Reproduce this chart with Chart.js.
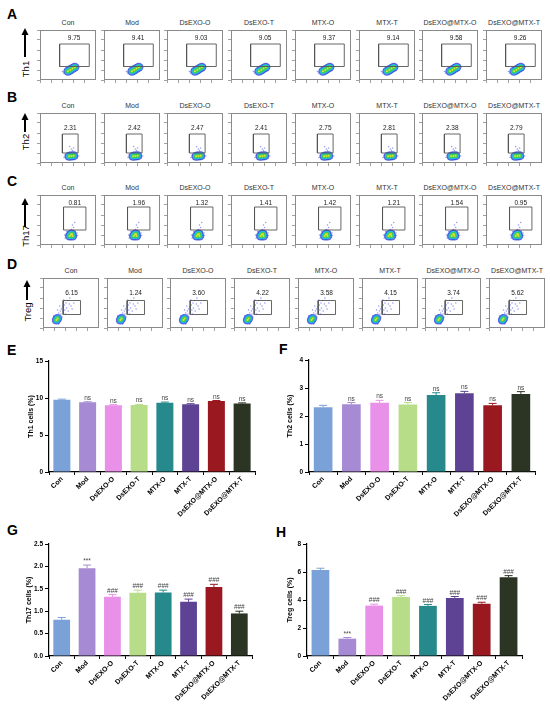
<!DOCTYPE html>
<html>
<head>
<meta charset="utf-8">
<script src="https://cdn.jsdelivr.net/npm/chart.js@4.4.0/dist/chart.umd.min.js"></script>
<style>
    body { margin: 0; background: #fff; }
    #fig { position: relative; width: 550px; height: 706px; font-family: "Liberation Sans", Arial, sans-serif; overflow: hidden; }
    #fig canvas { position: absolute; }
    .panel { position: absolute; font-weight: bold; font-size: 14px; line-height: 14px; color: #000; }
    .ttl { position: absolute; width: 64px; text-align: center; font-size: 7px; line-height: 8px; color: #333; white-space: nowrap; }
    #arrows { position: absolute; left: 0; top: 0; }
</style>
</head>
<body>
<div id="fig">
    <svg id="arrows" width="60" height="340"></svg>
</div>
<script>
const groups = ["Con", "Mod", "DsEXO-O", "DsEXO-T", "MTX-O", "MTX-T", "DsEXO@MTX-O", "DsEXO@MTX-T"];
const barColors = ["#7ba2d8", "#a68ad4", "#e990e8", "#b8dd88", "#26898b", "#5e4294", "#9a1820", "#2c3424"];

// bar panels
const th1Values = [9.75, 9.41, 9.03, 9.05, 9.37, 9.14, 9.58, 9.26];
const th1Errors = [0.10, 0.08, 0.07, 0.08, 0.08, 0.09, 0.08, 0.08];
const th1Marks = ["", "ns", "ns", "ns", "ns", "ns", "ns", "ns"];
const th1Ticks = [0, 5, 10, 15];

const th2Values = [2.31, 2.42, 2.47, 2.41, 2.75, 2.81, 2.38, 2.79];
const th2Errors = [0.07, 0.06, 0.09, 0.07, 0.08, 0.07, 0.07, 0.08];
const th2Marks = ["", "ns", "ns", "ns", "ns", "ns", "ns", "ns"];
const th2Ticks = [0, 1, 2, 3, 4];

const th17Values = [0.81, 1.96, 1.32, 1.41, 1.42, 1.21, 1.54, 0.95];
const th17Errors = [0.05, 0.07, 0.05, 0.06, 0.05, 0.06, 0.06, 0.05];
const th17Marks = ["", "***", "###", "###", "###", "###", "###", "###"];
const th17Ticks = [0, 0.5, 1.0, 1.5, 2.0, 2.5];

const tregValues = [6.15, 1.24, 3.60, 4.22, 3.58, 4.15, 3.74, 5.62];
const tregErrors = [0.12, 0.08, 0.10, 0.09, 0.10, 0.10, 0.10, 0.12];
const tregMarks = ["", "***", "###", "###", "###", "###", "###", "###"];
const tregTicks = [0, 2, 4, 6, 8];

// flow plots (0-100 display units)
const th1Gate = [35, 88, 27, 72];
const th1LabelAt = [61, 84];
const th1Cloud = [[44,16],[46,18],[48,17],[47,20],[50,19],[50,22],[52,17],[52,24],[54,21],[55,25],[57,18],[58,23],[58,27],[60,21],[61,26],[62,24],[63,29],[64,27],[66,28],[53,15],[56,16],[49,14],[59,19],[62,31],[45,21],[66,24],[42,14],[68,30],[51,26],[57,29],[40,17],[70,27],[46,13],[65,31]];
const th1Core = [[50,17.5],[54,20],[58,23],[62,25.5]];

const th2Gate = [40, 68, 20, 58];
const th2LabelAt = [54, 70];
const th2Cloud = [[46,12],[48,15],[49,10],[51,13],[52,17],[53,11],[55,15],[55,9],[57,18],[58,12],[59,16],[60,10],[61,14],[63,12],[64,16],[66,13],[50,19],[54,22],[58,25],[62,21],[47,8],[67,10],[45,16],[56,28],[53,33],[60,30],[43,11],[69,14]];
const th2Core = [[52,13.5],[56,14],[60,14.5]];

const th17Gate = [42, 82, 30, 76];
const th17LabelAt = [62, 84];
const th17Cloud = [[46,18],[47,22],[49,15],[50,25],[51,19],[52,13],[53,23],[54,27],[55,16],[57,25],[58,14],[59,21],[60,28],[61,17],[62,23],[64,20],[65,15],[48,27],[63,27],[56,31],[60,35],[66,24],[45,14],[58,40],[62,45],[44,20],[67,19]];
const th17Core = [[53,18],[57,22],[55,21],[58,18]];

const tregGate = [36, 67, 27, 55];
const tregLabelAt = [51, 70];
const tregCloud = [[18,12],[20,18],[21,14],[22,22],[23,10],[24,26],[26,20],[27,14],[28,30],[29,24],[30,18],[31,34],[32,28],[33,38],[34,22],[35,42],[36,32],[38,46],[39,36],[40,28],[41,50],[42,40],[44,55],[45,34],[47,48],[48,60],[50,44],[52,38],[30,44],[26,36],[55,50],[37,56],[19,24],[28,8]];
const tregCore = [[24,16],[26,19]];

const densityColors = ["rgba(58,79,224,0.85)", "rgba(34,195,232,0.85)", "#3ccf4e", "#e2e23a"];
const densityRadius = [4.6, 3.3, 2.2, 1.0];

const FONT = '"Liberation Sans", Arial, sans-serif';
Chart.defaults.font.family = FONT;

const fig = document.getElementById("fig");

function addCanvas(left, top, w, h) {
    const cv = document.createElement("canvas");
    cv.width = w;
    cv.height = h;
    cv.style.left = left + "px";
    cv.style.top = top + "px";
    cv.style.width = w + "px";
    cv.style.height = h + "px";
    fig.appendChild(cv);
    return cv;
}

function addDiv(cls, text, left, top) {
    const d = document.createElement("div");
    d.className = cls;
    d.textContent = text;
    d.style.left = left + "px";
    d.style.top = top + "px";
    fig.appendChild(d);
    return d;
}

// ---------- flow cytometry plots ----------
const framePlugin = {
    id: "frame",
    afterDatasetsDraw(chart, args, opts) {
        const { ctx, chartArea: a } = chart;
        ctx.save();
        ctx.strokeStyle = "#8a8a8a";
        ctx.lineWidth = 1;
        ctx.strokeRect(a.left + 0.5, a.top + 0.5, a.width - 1, a.height - 1);
        if (opts.text) {
            ctx.fillStyle = "#222";
            ctx.font = "6.5px " + FONT;
            ctx.textAlign = "center";
            ctx.textBaseline = "middle";
            ctx.fillText(opts.text, chart.scales.x.getPixelForValue(opts.at[0]), chart.scales.y.getPixelForValue(opts.at[1]));
        }
        ctx.restore();
    }
};

const flowRows = [
    { top: 30, shift: 0, values: th1Values, gate: th1Gate, labelAt: th1LabelAt, cloud: th1Cloud, core: th1Core },
    { top: 113, shift: 0, values: th2Values, gate: th2Gate, labelAt: th2LabelAt, cloud: th2Cloud, core: th2Core },
    { top: 195, shift: 0, values: th17Values, gate: th17Gate, labelAt: th17LabelAt, cloud: th17Cloud, core: th17Core },
    { top: 278, shift: 3, values: tregValues, gate: tregGate, labelAt: tregLabelAt, cloud: tregCloud, core: tregCore }
];

function toXY(arr) {
    return arr.map(p => ({ x: p[0], y: p[1] }));
}

function makeFlow(row, col) {
    const boxX = Math.round(40 + 63.7 * col + row.shift);
    addDiv("ttl", groups[col], boxX - 4, row.top - 11);
    const cv = addCanvas(boxX - 4, row.top, 60, 54);
    const g = row.gate;
    const gateLine = [[g[0], g[2]], [g[1], g[2]], [g[1], g[3]], [g[0], g[3]], [g[0], g[2]]];

    // chart.js paints the last dataset first, so the list runs top layer -> bottom layer
    const datasets = [
        { data: toXY(gateLine), showLine: true, borderColor: "#555", borderWidth: 0.9, pointRadius: 0, fill: false }
    ];
    for (let i = densityColors.length - 1; i >= 0; i--) {
        datasets.push({ data: toXY(row.core), pointRadius: densityRadius[i], backgroundColor: densityColors[i], borderWidth: 0 });
    }
    datasets.push({ data: toXY(row.cloud), pointRadius: 0.8, backgroundColor: "rgba(80,90,235,0.6)", borderWidth: 0 });

    const axis = (isX) => ({
        min: 0,
        max: 100,
        ticks: { display: false, stepSize: 20 },
        grid: { drawOnChartArea: false, tickLength: 3, color: "#777", lineWidth: 0.7 },
        border: { display: false },
        afterFit(s) { if (isX) s.height = 4; else s.width = 4; }
    });

    new Chart(cv, {
        type: "scatter",
        data: { datasets },
        options: {
            animation: false,
            responsive: false,
            events: [],
            layout: { padding: 0, autoPadding: false },
            plugins: {
                legend: { display: false },
                tooltip: { enabled: false },
                frame: { text: row.values[col].toFixed(2), at: row.labelAt }
            },
            scales: { x: axis(true), y: axis(false) }
        },
        plugins: [framePlugin]
    });
}

flowRows.forEach(row => groups.forEach((_, i) => makeFlow(row, i)));

// arrows + row labels
const svg = document.getElementById("arrows");
const rowLabels = [
    { text: "Th1", x: 25, tip: 28, end: 57, ly: 69 },
    { text: "Th2", x: 25, tip: 113, end: 132, ly: 142 },
    { text: "Th17", x: 25, tip: 198, end: 227, ly: 236 },
    { text: "Treg", x: 27, tip: 280, end: 300, ly: 312 }
];
let svgHtml = "";
rowLabels.forEach(r => {
    svgHtml += `<line x1="${r.x}" y1="${r.tip + 5}" x2="${r.x}" y2="${r.end}" stroke="#000" stroke-width="2"/>`;
    svgHtml += `<polygon points="${r.x},${r.tip} ${r.x - 3.5},${r.tip + 7} ${r.x + 3.5},${r.tip + 7}" fill="#000"/>`;
    svgHtml += `<text x="${r.x}" y="${r.ly}" transform="rotate(-90 ${r.x} ${r.ly})" text-anchor="middle" dominant-baseline="central" font-size="9.5" font-family='Liberation Sans, Arial, sans-serif'>${r.text}</text>`;
});
svg.innerHTML = svgHtml;

// panel letters
[["A", 7, 7], ["B", 7, 90], ["C", 7, 174], ["D", 7, 257], ["E", 7, 343], ["F", 279, 342], ["G", 7, 523], ["H", 276, 525]]
    .forEach(([t, x, y]) => addDiv("panel", t, x, y));

// ---------- bar charts ----------
const errorBarPlugin = {
    id: "errorBars",
    afterDatasetsDraw(chart, args, opts) {
        const { ctx } = chart;
        const meta = chart.getDatasetMeta(0);
        const y = chart.scales.y;
        ctx.save();
        meta.data.forEach((bar, i) => {
            const top = y.getPixelForValue(opts.values[i] + opts.errors[i]);
            ctx.strokeStyle = barColors[i];
            ctx.lineWidth = 1;
            ctx.beginPath();
            ctx.moveTo(bar.x, bar.y);
            ctx.lineTo(bar.x, top);
            ctx.moveTo(bar.x - 4, top);
            ctx.lineTo(bar.x + 4, top);
            ctx.stroke();
            if (opts.marks[i]) {
                ctx.fillStyle = "#444";
                ctx.font = "6.5px " + FONT;
                ctx.textAlign = "center";
                ctx.textBaseline = "bottom";
                ctx.fillText(opts.marks[i], bar.x, top - 0.5);
            }
        });
        ctx.restore();
    }
};

function makeBar(cfg) {
    const cv = addCanvas(cfg.left, cfg.top, cfg.w, cfg.h);
    new Chart(cv, {
        type: "bar",
        data: {
            labels: groups,
            datasets: [{
                data: cfg.values,
                backgroundColor: barColors,
                borderWidth: 0,
                barPercentage: 0.66,
                categoryPercentage: 1
            }]
        },
        options: {
            animation: false,
            responsive: false,
            events: [],
            layout: { padding: { top: cfg.padTop, right: cfg.padRight, left: 0, bottom: 0 }, autoPadding: false },
            plugins: {
                legend: { display: false },
                tooltip: { enabled: false },
                errorBars: { values: cfg.values, errors: cfg.errors, marks: cfg.marks }
            },
            scales: {
                x: {
                    ticks: { maxRotation: 45, minRotation: 45, autoSkip: false, color: "#000", font: { size: 7, weight: "bold" }, padding: 0 },
                    grid: { drawOnChartArea: false, tickLength: 3, color: "#000" },
                    border: { color: "#000", width: 1.2 },
                    afterFit(s) { s.height = cfg.xHeight; }
                },
                y: {
                    min: cfg.ticks[0],
                    max: cfg.ticks[cfg.ticks.length - 1],
                    afterBuildTicks(s) { s.ticks = cfg.ticks.map(v => ({ value: v })); },
                    ticks: {
                        color: "#000",
                        font: { size: 6.5, weight: "bold" },
                        padding: 2,
                        callback: v => v.toFixed(cfg.decimals)
                    },
                    grid: { drawOnChartArea: false, tickLength: 4, color: "#000" },
                    border: { color: "#000", width: 1.2 },
                    title: {
                        display: true,
                        text: cfg.title,
                        color: "#000",
                        font: { size: 7, weight: "bold" },
                        padding: { top: cfg.titlePad, bottom: 0 }
                    },
                    afterFit(s) { s.width = cfg.yWidth; }
                }
            }
        },
        plugins: [errorBarPlugin]
    });
}

makeBar({ left: 0, top: 350, w: 262, h: 178, padTop: 11, padRight: 7, xHeight: 56, yWidth: 49, titlePad: 27,
    values: th1Values, errors: th1Errors, marks: th1Marks, ticks: th1Ticks, decimals: 0, title: "Th1 cells (%)" });
makeBar({ left: 270, top: 350, w: 267, h: 178, padTop: 10, padRight: 2, xHeight: 56, yWidth: 39, titlePad: 16,
    values: th2Values, errors: th2Errors, marks: th2Marks, ticks: th2Ticks, decimals: 0, title: "Th2 cells (%)" });
makeBar({ left: 0, top: 534, w: 258, h: 172, padTop: 10, padRight: 6, xHeight: 50, yWidth: 49, titlePad: 25,
    values: th17Values, errors: th17Errors, marks: th17Marks, ticks: th17Ticks, decimals: 1, title: "Th17 cells (%)" });
makeBar({ left: 270, top: 534, w: 254, h: 172, padTop: 10, padRight: 2, xHeight: 50, yWidth: 37, titlePad: 16,
    values: tregValues, errors: tregErrors, marks: tregMarks, ticks: tregTicks, decimals: 0, title: "Treg cells (%)" });
</script>
</body>
</html>
